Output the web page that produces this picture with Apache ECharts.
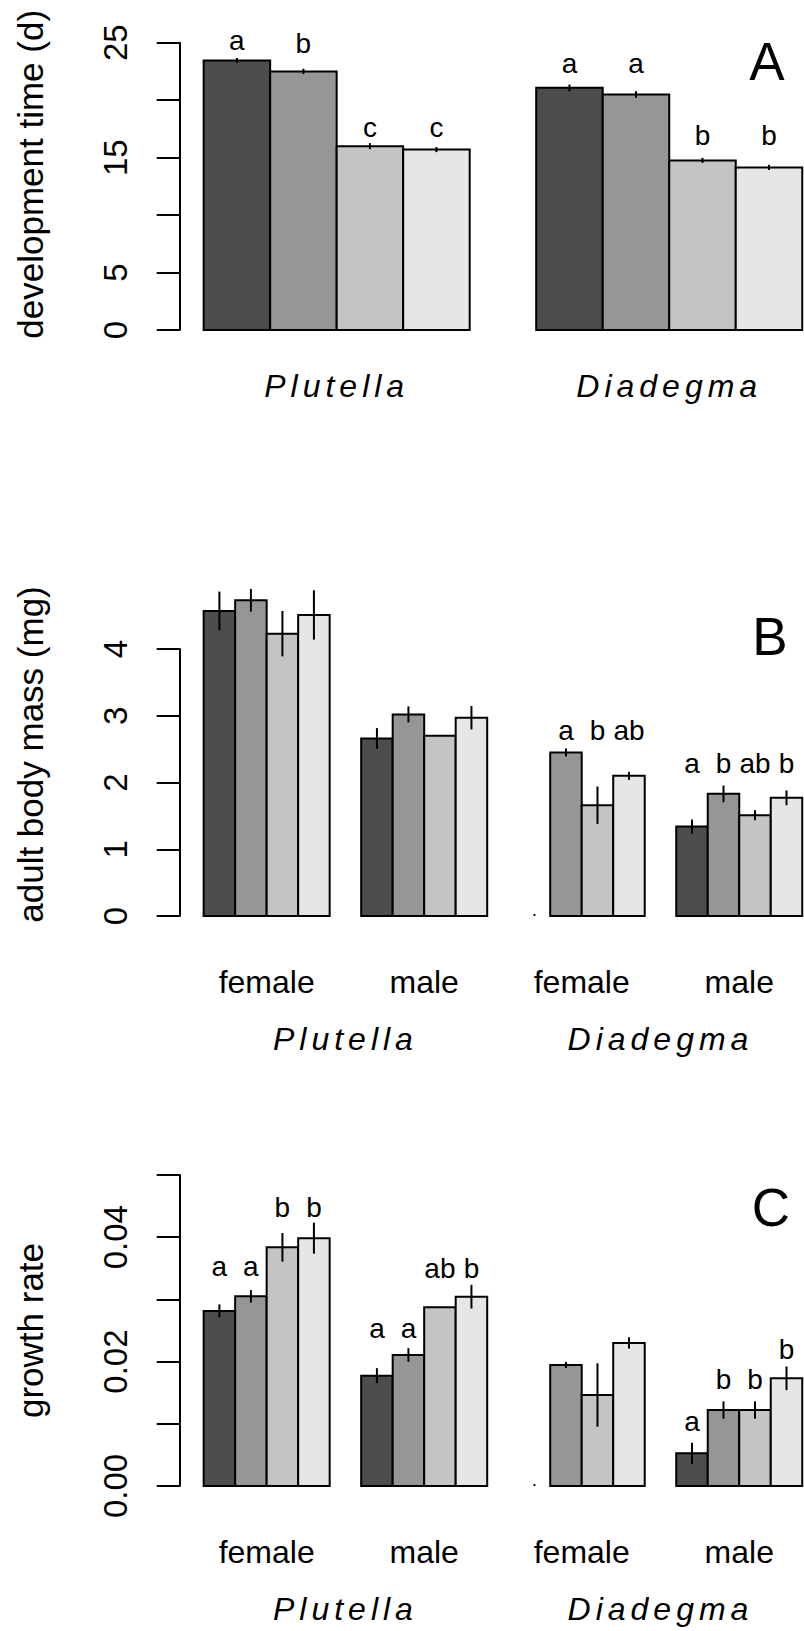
<!DOCTYPE html>
<html><head><meta charset="utf-8">
<script src="https://cdn.jsdelivr.net/npm/echarts@6/dist/echarts.min.js"></script>
<style>
html,body{margin:0;padding:0;background:#fff;}
#chart{width:804px;height:1631px;}
#chart text[style*="italic"]{letter-spacing:5px;}
</style></head><body><div id="chart"></div>
<script>
// ---------------- data ----------------
const barColors = ['#4d4d4d', '#969696', '#c4c4c4', '#e6e6e6'];
const speciesLabels = ['Plutella', 'Diadegma'];
const sexLabels = ['female', 'male', 'female', 'male'];

// Panel A: development time (d), groups = species
const devTime = [[23.45, 22.5, 16.0, 15.7], [21.07, 20.49, 14.76, 14.15]];
const devTimeSE = [[0.22, 0.23, 0.26, 0.22], [0.29, 0.29, 0.22, 0.22]];
const devTimeLetters = [['a', 'b', 'c', 'c'], ['a', 'a', 'b', 'b']];
const devTimeLetterY = [[24.35, 24.06, 16.8, 16.8], [22.32, 22.32, 16.07, 16.07]];
const devTimeTicks = ['0', '5', '', '15', '', '25'];

// Panel B: adult body mass (mg), groups = Plutella female, Plutella male, Diadegma female, Diadegma male
const bodyMass = [[4.57, 4.73, 4.23, 4.51], [2.66, 3.02, 2.70, 2.97], [null, 2.45, 1.66, 2.10], [1.34, 1.83, 1.51, 1.77]];
const bodyMassSE = [[0.29, 0.17, 0.34, 0.37], [0.155, 0.12, 0, 0.175], [0, 0.06, 0.28, 0.06], [0.105, 0.125, 0.075, 0.11]];
const bodyMassLetters = [['', '', '', ''], ['', '', '', ''], ['', 'a', 'b', 'ab'], ['a', 'b', 'ab', 'b']];
const bodyMassLetterY = [[null, null, null, null], [null, null, null, null], [2.637, 2.637, 2.637, 2.637], [2.138, 2.138, 2.138, 2.138]];
const bodyMassTicks = ['0', '1', '2', '3', '4'];

// Panel C: growth rate
const growth = [[0.02815, 0.0305, 0.03837, 0.03985], [0.01774, 0.02106, 0.02872, 0.03044], [null, 0.01945, 0.01463, 0.0230], [0.00525, 0.01222, 0.01222, 0.01731]];
const growthSE = [[0.00105, 0.0010, 0.0023, 0.0025], [0.0012, 0.0011, 0, 0.0019], [0, 0.0005, 0.0051, 0.0009], [0.0017, 0.0014, 0.0014, 0.0019]];
const growthLetters = [['a', 'a', 'b', 'b'], ['a', 'a', 'ab', 'b'], ['', '', '', ''], ['a', 'b', 'b', 'b']];
const growthLetterY = [[0.03365, 0.03365, 0.0432, 0.0432], [0.02374, 0.02374, 0.03339, 0.03339], [null, null, null, null], [0.00873, 0.0155, 0.0155, 0.0204]];
const growthTicks = ['0.00', '', '0.02', '', '0.04', ''];

// ---------------- helpers ----------------
const FONT = '"Liberation Sans", Arial, Helvetica, sans-serif';
const LETTER_FS = 28;
const GROUP_UNITS = 5; // 4 bars + 1 bar-width gap

function buildBars(values, se, letters, letterY) {
  const items = [];
  values.forEach((grp, g) => grp.forEach((v, j) => {
    const ly = letterY[g][j];
    items.push({
      value: [1 + g * GROUP_UNITS + j, v == null ? 0 : v, se[g][j] || 0, j, v == null ? 1 : 0, ly == null ? 0 : ly],
      letter: letters[g][j] || ''
    });
  }));
  return items;
}

function barSeries(idx, items) {
  return {
    type: 'custom', coordinateSystem: 'cartesian2d', xAxisIndex: idx, yAxisIndex: idx,
    silent: true, clip: false, encode: {x: 0, y: 1},
    data: items.map(d => d.value),
    renderItem: function (params, api) {
      const it = items[params.dataIndex];
      const xl = it.value[0], v = it.value[1], s = it.value[2], ci = it.value[3], na = it.value[4], ly = it.value[5];
      const children = [];
      const base = api.coord([xl + 0.5, 0]);
      if (na) {
        children.push({type: 'circle', shape: {cx: base[0], cy: base[1] - 1, r: 1.1}, style: {fill: '#000'}});
        return {type: 'group', children: children};
      }
      const p0 = api.coord([xl, 0]);
      const p1 = api.coord([xl + 1, v]);
      children.push({type: 'rect', shape: {x: p0[0], y: p1[1], width: p1[0] - p0[0], height: p0[1] - p1[1]},
        style: {fill: barColors[ci], stroke: '#000', lineWidth: 2}});
      if (s > 0) {
        const e1 = api.coord([xl + 0.5, v + s]);
        const e2 = api.coord([xl + 0.5, v - s]);
        children.push({type: 'line', shape: {x1: e1[0], y1: e1[1], x2: e2[0], y2: e2[1]},
          style: {stroke: '#000', lineWidth: 2}});
      }
      if (it.letter) {
        const lp = api.coord([xl + 0.5, ly]);
        children.push({type: 'text', style: {text: it.letter, x: lp[0], y: lp[1] - 0.3465 * LETTER_FS,
          align: 'center', verticalAlign: 'middle', fontSize: LETTER_FS, fontFamily: FONT, fill: '#000'}});
      }
      return {type: 'group', children: children};
    }
  };
}

function labelSeries(idx, centers, labels, offsetPx, fs, italic) {
  return {
    type: 'custom', coordinateSystem: 'cartesian2d', xAxisIndex: idx, yAxisIndex: idx,
    silent: true, clip: false, encode: {x: 0, y: 1},
    data: centers.map(c => [c, 0]),
    renderItem: function (params, api) {
      const p = api.coord([api.value(0), 0]);
      return {type: 'text', style: {text: labels[params.dataIndex], x: p[0], y: p[1] + offsetPx,
        align: 'center', verticalAlign: 'middle', fontSize: fs, fontFamily: FONT,
        fontStyle: italic ? 'italic' : 'normal', fill: '#000'}};
    }
  };
}

function groupCenters(n) { const r = []; for (let g = 0; g < n; g++) r.push(1 + g * GROUP_UNITS + 2); return r; }
function xRange(n) { const last = (n - 1) * GROUP_UNITS + 4 + 1; const span = last - 1; return [1 - 0.04 * span, last + 0.04 * span]; }

const GRID_LEFT = 179.7, GRID_W = 646.5;
const grids = [
  {left: GRID_LEFT, top: 42.7, width: GRID_W, height: 287.3, outerBoundsMode: 'none'},
  {left: GRID_LEFT, top: 649, width: GRID_W, height: 267, outerBoundsMode: 'none'},
  {left: GRID_LEFT, top: 1175, width: GRID_W, height: 311, outerBoundsMode: 'none'}
];
const nGroups = [2, 4, 4];
const xAxes = nGroups.map((n, i) => {
  const r = xRange(n);
  return {type: 'value', gridIndex: i, min: r[0], max: r[1], show: false};
});

function yAxis(i, max, interval, ticks, name, namePadLeft) {
  return {
    type: 'value', gridIndex: i, min: 0, max: max, interval: interval,
    axisLine: {show: true, lineStyle: {color: '#000', width: 2}},
    axisTick: {show: true, length: 23, lineStyle: {color: '#000', width: 2}},
    splitLine: {show: false},
    axisLabel: {rotate: 90, margin: 48, fontSize: 33, fontFamily: FONT, color: '#000',
      formatter: function (v, k) { return ticks[k] != null ? ticks[k] : ''; }},
    name: name, nameLocation: 'middle', nameRotate: 90, nameGap: 132,
    nameTextStyle: {fontSize: 35, fontFamily: FONT, color: '#000', padding: [0, 0, 0, namePadLeft]}
  };
}

const yAxes = [
  yAxis(0, 25, 5, devTimeTicks, 'development time (d)', 24),
  yAxis(1, 4, 1, bodyMassTicks, 'adult body mass (mg)', 56),
  yAxis(2, 0.05, 0.01, growthTicks, 'growth rate', 0)
];

const aItems = buildBars(devTime, devTimeSE, devTimeLetters, devTimeLetterY);
const bItems = buildBars(bodyMass, bodyMassSE, bodyMassLetters, bodyMassLetterY);
const cItems = buildBars(growth, growthSE, growthLetters, growthLetterY);

const cA = groupCenters(2), cB = groupCenters(4);
const spB = [(cB[0] + cB[1]) / 2, (cB[2] + cB[3]) / 2];

const series = [
  barSeries(0, aItems),
  labelSeries(0, cA, speciesLabels, 55.6, 32, true),
  barSeries(1, bItems),
  labelSeries(1, cB, sexLabels, 66.2, 32, false),
  labelSeries(1, spB, speciesLabels, 122.6, 32, true),
  barSeries(2, cItems),
  labelSeries(2, cB, sexLabels, 66.2, 32, false),
  labelSeries(2, spB, speciesLabels, 122.6, 32, true)
];

const panelLetter = (t, x, y) => ({type: 'text', x: x, y: y, silent: true,
  style: {text: t, align: 'center', verticalAlign: 'middle', fontSize: 53, fontFamily: FONT, fill: '#000'}});

const chart = echarts.init(document.getElementById('chart'), null, {renderer: 'svg', width: 804, height: 1631});
chart.setOption({
  animation: false,
  backgroundColor: '#fff',
  grid: grids,
  xAxis: xAxes,
  yAxis: yAxes,
  series: series,
  graphic: [panelLetter('A', 767, 61.5), panelLetter('B', 770, 636.6), panelLetter('C', 771, 1207.6)]
});
</script></body></html>
